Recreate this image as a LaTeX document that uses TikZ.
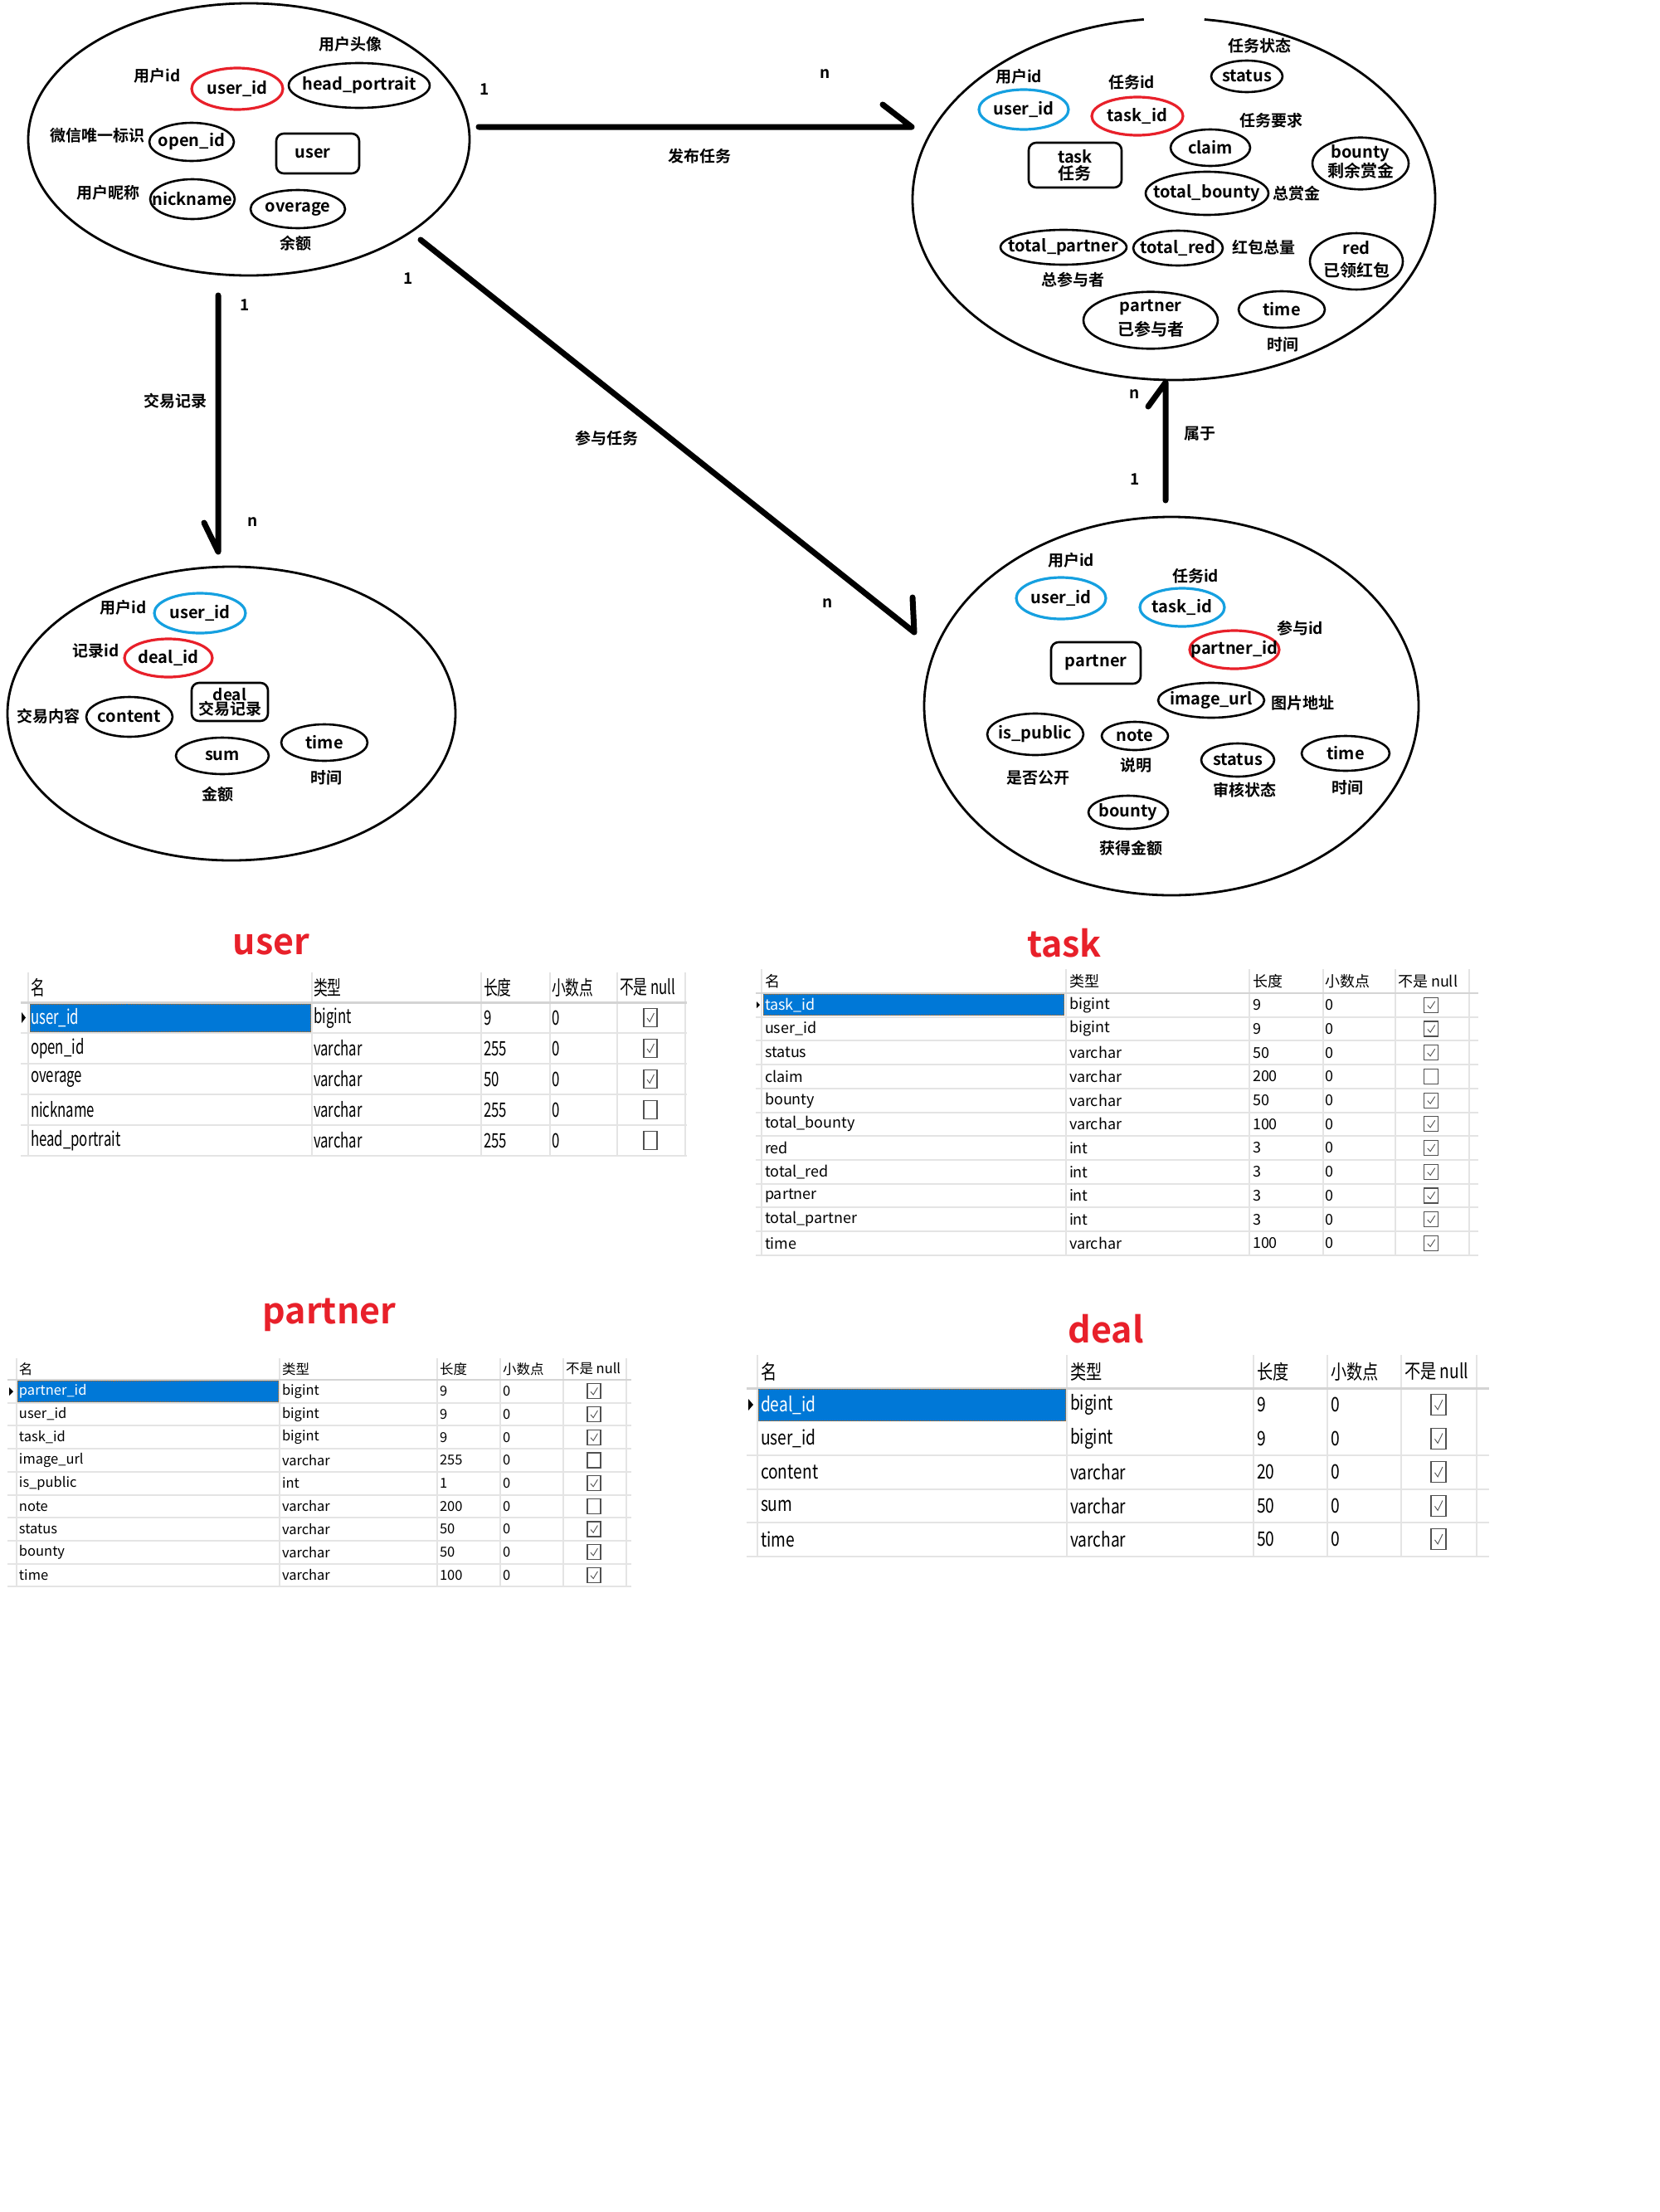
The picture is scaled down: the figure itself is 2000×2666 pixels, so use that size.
\documentclass[tikz,border=0pt]{standalone}
\usepackage{fontspec}
\setmainfont{Noto Sans CJK SC}[BoldFont={Noto Sans CJK SC Bold}]
\usepackage{graphicx}
\usetikzlibrary{shapes.geometric}
\definecolor{pred}{HTML}{E8202A}
\definecolor{pblue}{HTML}{15A0E0}
\definecolor{selblue}{HTML}{0078D7}
\definecolor{gridg}{HTML}{E4E4E4}
\definecolor{hdrg}{HTML}{D4D4D4}
\definecolor{chk}{HTML}{505050}
\newcommand\cz[2]{\scalebox{#1}[1]{#2}}
\newcommand\mb[1]{\makebox[0pt]{#1}}
\newcommand\two[3]{\makebox[0pt]{\begin{tabular}{@{}c@{}}#1\\[#3]#2\end{tabular}}}
\newcommand\cbox[5]{%
  \draw[chk, line width=1.2pt] ({#1-#3},{#2-#4}) rectangle ({#1+#3},{#2+#4});
  \ifnum#5=1 \draw[chk, line width=0.9pt] ({#1-0.5*#3},{#2+0.05*#4}) -- ({#1-0.1*#3},{#2+0.45*#4}) -- ({#1+0.55*#3},{#2-0.5*#4});\fi}
\begin{document}
\begin{tikzpicture}[x=1pt,y=-1pt,
  every node/.style={inner sep=0pt, outer sep=0pt},
  bigE/.style={draw, ellipse, line width=2.8pt},
  sz/.style 2 args={minimum width=#1, minimum height=#2},
  attr/.style={draw, ellipse, line width=2.6pt, font=\fontsize{20}{20}\selectfont\bfseries},
  pk/.style={attr, draw=pred, line width=3.2pt},
  fk/.style={attr, draw=pblue, line width=3.2pt},
  ent/.style={draw, rounded corners=9pt, line width=2.6pt, align=center, font=\fontsize{20}{20}\selectfont\bfseries},
  lbl/.style={font=\fontsize{19}{21}\selectfont\bfseries},
  rel/.style={line width=7pt, line cap=round, line join=round},
  ttl/.style={text=pred, font=\fontsize{43}{46}\selectfont\bfseries},
]
\fill[white] (0,0) rectangle (2000,2666);
\useasboundingbox (0,0) rectangle (2000,2666);

% ================= user entity =================
\node[bigE, sz={532}{328}] (userE) at (300,168) {};
\node[lbl] (uL1) at (422,53) {用户头像};
\node[lbl] (uL2) at (190,91) {用户id};
\node[pk, sz={110}{50}] (uA1) at (286,107) {\mb{user\_id}};
\node[attr, sz={170}{54}] (uA2) at (433,103) {\mb{head\_portrait}};
\node[lbl] (uL3) at (117,163) {微信唯一标识};
\node[attr, sz={102}{46}] (uA3) at (231,171) {\mb{open\_id}};
\node[ent, sz={100}{48}] (uEnt) at (383,185) {\hspace*{-12pt}user};
\node[lbl] (uL4) at (130,232) {用户昵称};
\node[attr, sz={102}{48}] (uA4) at (232,240) {\mb{nickname}};
\node[attr, sz={114}{46}] (uA5) at (359,252) {\mb{overage}};
\node[lbl] (uL5) at (356,293) {余额};

% ================= task entity =================
\node[ellipse, sz={630}{436}] (taskE) at (1415,240) {};
\draw[line width=2.8pt] ([shift={(276.7:315 and 218)}]taskE.center) arc[start angle=276.7, end angle=623.4, x radius=315, y radius=218];
\node[lbl] (tL1) at (1518,55) {任务状态};
\node[attr, sz={86}{38}] (tA1) at (1503,92) {\mb{status}};
\node[lbl] (tL2) at (1228,92) {用户id};
\node[fk, sz={108}{48}] (tA2) at (1234,132) {\mb{user\_id}};
\node[lbl] (tL3) at (1364,99) {任务id};
\node[pk, sz={110}{46}] (tA3) at (1371,140) {\mb{task\_id}};
\node[lbl] (tL4) at (1532,145) {任务要求};
\node[attr, sz={96}{44}] (tA4) at (1459,178) {\mb{claim}};
\node[ent, sz={112}{54}, align=left] (tEnt) at (1296,199) {task\\任务};
\node[attr, sz={116}{62}] (tA5) at (1640,197) {\two{bounty}{剩余赏金}{-1pt}};
\node[attr, sz={148}{52}] (tA6) at (1455,233) {\mb{total\_bounty}};
\node[lbl] (tL5) at (1563,233) {总赏金};
\node[attr, sz={152}{42}] (tA7) at (1282,298) {\mb{total\_partner}};
\node[attr, sz={108}{42}] (tA8) at (1420,299) {\mb{total\_red}};
\node[lbl] (tL6) at (1523,298) {红包总量};
\node[attr, sz={112}{56}] (tA9) at (1635,315) {\two{red}{已领红包}{3pt}};
\node[lbl] (tL7) at (1293,337) {总参与者};
\node[attr, sz={162}{62}] (tA10) at (1387,386) {\two{partner}{已参与者}{5pt}};
\node[attr, sz={104}{44}] (tA11) at (1545,373) {\mb{time}};
\node[lbl] (tL8) at (1546,415) {时间};

% ================= deal entity =================
\node[bigE, sz={540}{354}] (dealE) at (279,860) {};
\node[lbl] (dL1) at (149,732) {用户id};
\node[fk, sz={110}{48}] (dA1) at (241,739) {\mb{user\_id}};
\node[lbl] (dL2) at (116,784) {记录id};
\node[pk, sz={106}{46}] (dA2) at (203,793) {\mb{deal\_id}};
\node[ent, sz={92}{46}, font=\fontsize{19}{17}\selectfont\bfseries] (dEnt) at (277,846) {deal\\交易记录};
\node[lbl] (dL3) at (58,863) {交易内容};
\node[attr, sz={104}{48}] (dA3) at (156,864) {\mb{content}};
\node[attr, sz={104}{44}] (dA4) at (391,895) {\mb{time}};
\node[attr, sz={112}{44}] (dA5) at (268,911) {\mb{sum}};
\node[lbl] (dL4) at (393,937) {时间};
\node[lbl] (dL5) at (262,957) {金额};

% ================= partner entity =================
\node[bigE, sz={596}{456}] (partE) at (1412,851) {};
\node[lbl] (pL1) at (1291,675) {用户id};
\node[fk, sz={108}{50}] (pA1) at (1279,721) {\mb{user\_id}};
\node[lbl] (pL2) at (1441,694) {任务id};
\node[fk, sz={102}{46}] (pA2) at (1425,732) {\mb{task\_id}};
\node[lbl] (pL3) at (1567,757) {参与id};
\node[pk, sz={108}{46}] (pA3) at (1488,783) {\mb{partner\_id}};
\node[ent, sz={108}{50}] (pEnt) at (1321,799) {partner};
\node[attr, sz={128}{42}] (pA4) at (1460,844) {\mb{image\_url}};
\node[lbl] (pL4) at (1570,847) {图片地址};
\node[attr, sz={116}{50}] (pA5) at (1248,885) {\mb{is\_public}};
\node[attr, sz={80}{34}] (pA6) at (1368,887) {\mb{note}};
\node[lbl] (pL5) at (1369,922) {说明};
\node[lbl] (pL6) at (1251,937) {是否公开};
\node[attr, sz={88}{40}] (pA7) at (1492,916) {\mb{status}};
\node[lbl] (pL7) at (1500,952) {审核状态};
\node[attr, sz={106}{42}] (pA8) at (1622,908) {\mb{time}};
\node[lbl] (pL8) at (1624,949) {时间};
\node[attr, sz={96}{40}] (pA9) at (1360,979) {\mb{bounty}};
\node[lbl] (pL9) at (1363,1022) {获得金额};

% ================= relationships =================
\coordinate (a1s) at (577,153); \coordinate (a1e) at (1099,153); \coordinate (a1b) at (1064,126);
\draw[rel] (a1s) -- (a1e) -- (a1b);
\node[lbl] (c1a) at (584,108) {1};
\node[lbl] (c1b) at (995,89) {n};
\node[lbl] (r1) at (843,188) {发布任务};

\coordinate (a2s) at (263,356); \coordinate (a2e) at (263,665); \coordinate (a2b) at (246,630);
\draw[rel] (a2s) -- (a2e) -- (a2b);
\node[lbl] (c2a) at (295,368) {1};
\node[lbl] (c2b) at (305,629) {n};
\node[lbl] (r2) at (211,483) {交易记录};

\coordinate (a3s) at (507,289); \coordinate (a3e) at (1102,762); \coordinate (a3b) at (1100,720);
\draw[rel] (a3s) -- (a3e) -- (a3b);
\node[lbl] (c3a) at (492,336) {1};
\node[lbl] (c3b) at (998,727) {n};
\node[lbl] (r3) at (731,528) {参与任务};

\coordinate (a4s) at (1405,603); \coordinate (a4e) at (1405,461); \coordinate (a4b) at (1384,490);
\draw[rel] (a4s) -- (a4e) -- (a4b);
\node[lbl] (c4a) at (1368,475) {n};
\node[lbl] (c4b) at (1368,578) {1};
\node[lbl] (r4) at (1446,523) {属于};

% ================= titles =================
\node[ttl] (T1) at (327,1138) {user};
\node[ttl] (T2) at (1283,1137) {task};
\node[ttl] (T3) at (397,1585) {partner};
\node[ttl] (T4) at (1333,1602) {deal};

% ================= user table =================
\begin{scope}[tf/.style={font=\fontsize{24}{26}\selectfont, anchor=west}]
\foreach \x in {34,376,580,663,744,826} \draw[gridg, line width=1.5pt] (\x,1172) -- (\x,1393);
\draw[hdrg, line width=3pt] (25,1208) -- (828,1208);
\foreach \k in {1,...,5} \draw[gridg, line width=2pt] (25,{1208+37*\k}) -- (828,{1208+37*\k});
\node[tf] (uh1) at (37,1190) {\cz{0.7}{名}};
\node[tf] (uh2) at (378,1190) {\cz{0.7}{类型}};
\node[tf] (uh3) at (583,1190) {\cz{0.7}{长度}};
\node[tf] (uh4) at (665,1190) {\cz{0.7}{小数点}};
\node[tf] (uh5) at (747,1190) {\cz{0.7}{不是 null}};
\fill[selblue] (36,1210) rectangle (375,1244);
\draw[orange!80!black, densely dotted, line width=1pt] (36.5,1210.5) rectangle (374.5,1243.5);
\fill (26,1220) -- (31,1226.5) -- (26,1233) -- cycle;
\foreach \nm/\typ/\len/\ck [count=\i] in {user\_id/bigint/9/1, open\_id/varchar/255/1, overage/varchar/50/1, nickname/varchar/255/0, head\_portrait/varchar/255/0} {
  \pgfmathsetmacro\yy{1189.5+37*\i}
  \def\rowcol{black}\ifnum\i=1 \def\rowcol{white}\fi
  \node[tf, text=\rowcol] (ur\i-n) at (37,\yy) {\cz{0.7}{\nm}};
  \node[tf] (ur\i-t) at (378,\yy) {\cz{0.7}{\typ}};
  \node[tf] (ur\i-l) at (583,\yy) {\cz{0.7}{\len}};
  \node[tf] (ur\i-d) at (665,\yy) {\cz{0.7}{0}};
  \cbox{784}{\yy}{8}{11}{\ck}
}
\end{scope}

% ================= task table =================
\begin{scope}[tf/.style={font=\fontsize{18}{20}\selectfont, anchor=west}]
\foreach \x in {918,1285,1506,1595,1682,1771} \draw[gridg, line width=1.5pt] (\x,1168) -- (\x,1513);
\draw[hdrg, line width=2.5pt] (911,1197) -- (1782,1197);
\foreach \k in {1,...,11} \draw[gridg, line width=2pt] (911,{1197+28.7*\k}) -- (1782,{1197+28.7*\k});
\node[tf] (th1) at (922,1183) {名};
\node[tf] (th2) at (1289,1183) {类型};
\node[tf] (th3) at (1510,1183) {长度};
\node[tf] (th4) at (1597,1183) {小数点};
\node[tf] (th5) at (1685,1183) {不是 null};
\fill[selblue] (920,1198) rectangle (1283,1224);
\draw[orange!80!black, densely dotted, line width=1pt] (920.5,1198.5) rectangle (1282.5,1223.5);
\fill (912,1207) -- (916,1211) -- (912,1215) -- cycle;
\foreach \nm/\typ/\len/\ck [count=\i] in {task\_id/bigint/9/1, user\_id/bigint/9/1, status/varchar/50/1, claim/varchar/200/0, bounty/varchar/50/1, total\_bounty/varchar/100/1, red/int/3/1, total\_red/int/3/1, partner/int/3/1, total\_partner/int/3/1, time/varchar/100/1} {
  \pgfmathsetmacro\yy{1197+28.7*(\i-0.5)}
  \def\rowcol{black}\ifnum\i=1 \def\rowcol{white}\fi
  \node[tf, text=\rowcol] (tr\i-n) at (922,\yy) {\nm};
  \node[tf] (tr\i-t) at (1289,\yy) {\typ};
  \node[tf] (tr\i-l) at (1510,\yy) {\len};
  \node[tf] (tr\i-d) at (1597,\yy) {0};
  \cbox{1725}{\yy}{8.5}{9}{\ck}
}
\end{scope}

% ================= partner table =================
\begin{scope}[tf/.style={font=\fontsize{16.5}{18}\selectfont, anchor=west}]
\foreach \x in {20,337,527,603,679,755} \draw[gridg, line width=1.5pt] (\x,1637) -- (\x,1912);
\draw[hdrg, line width=2.5pt] (9,1663) -- (761,1663);
\foreach \k in {1,...,9} \draw[gridg, line width=2pt] (9,{1663+27.7*\k}) -- (761,{1663+27.7*\k});
\node[tf] (ph1) at (23,1650) {名};
\node[tf] (ph2) at (340,1650) {类型};
\node[tf] (ph3) at (530,1650) {长度};
\node[tf] (ph4) at (606,1650) {小数点};
\node[tf] (ph5) at (682,1650) {不是 null};
\fill[selblue] (21,1664) rectangle (336,1690);
\draw[orange!80!black, densely dotted, line width=1pt] (21.5,1664.5) rectangle (335.5,1689.5);
\fill (11,1672) -- (16,1677) -- (11,1682) -- cycle;
\foreach \nm/\typ/\len/\ck [count=\i] in {partner\_id/bigint/9/1, user\_id/bigint/9/1, task\_id/bigint/9/1, image\_url/varchar/255/0, is\_public/int/1/1, note/varchar/200/0, status/varchar/50/1, bounty/varchar/50/1, time/varchar/100/1} {
  \pgfmathsetmacro\yy{1663+27.7*(\i-0.5)}
  \def\rowcol{black}\ifnum\i=1 \def\rowcol{white}\fi
  \node[tf, text=\rowcol] (pr\i-n) at (23,\yy) {\nm};
  \node[tf] (pr\i-t) at (340,\yy) {\typ};
  \node[tf] (pr\i-l) at (530,\yy) {\len};
  \node[tf] (pr\i-d) at (606,\yy) {0};
  \cbox{716}{\yy}{8}{9}{\ck}
}
\end{scope}

% ================= deal table =================
\begin{scope}[tf/.style={font=\fontsize{24}{26}\selectfont, anchor=west}]
\foreach \x in {913,1286,1511,1600,1689,1780} \draw[gridg, line width=1.5pt] (\x,1633) -- (\x,1876);
\draw[hdrg, line width=3pt] (900,1673) -- (1795,1673);
\foreach \k in {2,...,5} \draw[gridg, line width=2pt] (900,{1673+40.5*\k}) -- (1795,{1673+40.5*\k});
\node[tf] (dh1) at (917,1653) {\cz{0.8}{名}};
\node[tf] (dh2) at (1290,1653) {\cz{0.8}{类型}};
\node[tf] (dh3) at (1515,1653) {\cz{0.8}{长度}};
\node[tf] (dh4) at (1604,1653) {\cz{0.8}{小数点}};
\node[tf] (dh5) at (1693,1653) {\cz{0.8}{不是 null}};
\fill[selblue] (914,1674) rectangle (1285,1713);
\draw[orange!80!black, densely dotted, line width=1pt] (914.5,1674.5) rectangle (1284.5,1712.5);
\fill (902,1686) -- (908,1693) -- (902,1700) -- cycle;
\foreach \nm/\typ/\len/\ck [count=\i] in {deal\_id/bigint/9/1, user\_id/bigint/9/1, content/varchar/20/1, sum/varchar/50/1, time/varchar/50/1} {
  \pgfmathsetmacro\yy{1673+40.5*(\i-0.5)}
  \def\rowcol{black}\ifnum\i=1 \def\rowcol{white}\fi
  \node[tf, text=\rowcol] (dr\i-n) at (917,\yy) {\cz{0.8}{\nm}};
  \node[tf] (dr\i-t) at (1290,\yy) {\cz{0.8}{\typ}};
  \node[tf] (dr\i-l) at (1515,\yy) {\cz{0.8}{\len}};
  \node[tf] (dr\i-d) at (1604,\yy) {\cz{0.8}{0}};
  \cbox{1734}{\yy}{9}{12.5}{\ck}
}
\end{scope}
\end{tikzpicture}
\end{document}
